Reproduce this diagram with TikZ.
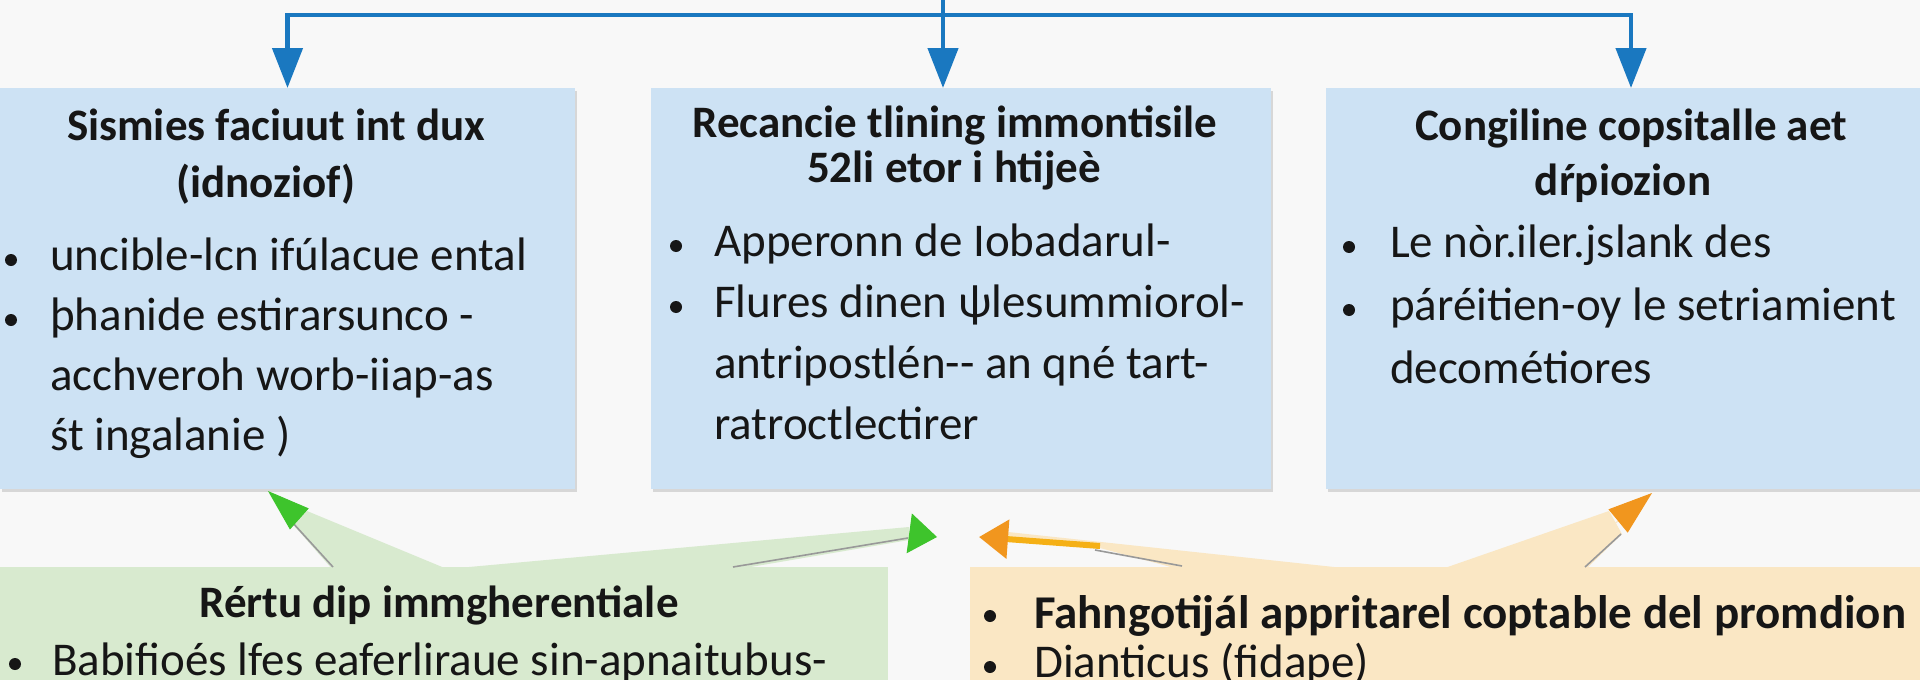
\documentclass[tikz,border=0pt]{standalone}
\usepackage{fontspec}
\setmainfont{Carlito}
\usetikzlibrary{arrows.meta,shadows}
\definecolor{boxblue}{RGB}{205,226,244}
\definecolor{linkblue}{RGB}{26,120,192}
\definecolor{boxgreen}{RGB}{216,234,207}
\definecolor{headgreen}{RGB}{62,196,44}
\definecolor{boxorange}{RGB}{250,231,196}
\definecolor{headorange}{RGB}{241,150,30}
\definecolor{paper}{RGB}{248,248,248}
\definecolor{ink}{RGB}{22,22,22}
\def\headfont{\fontsize{45}{50}\selectfont\bfseries}
\def\bodyfont{\fontsize{47}{60}\selectfont}

\begin{document}
\begin{tikzpicture}[x=1pt,y=-1pt,
    bluebox/.style={fill=boxblue,inner sep=0pt,outer sep=0pt,anchor=north west,
      drop shadow={shadow xshift=1.5pt,shadow yshift=-2.5pt,fill=black!28}},
    notebox/.style={inner sep=0pt,outer sep=0pt,anchor=north west},
    headline/.style={font=\headfont,text=ink,anchor=base,inner sep=0pt},
    bodyline/.style={font=\bodyfont,text=ink,anchor=base west,inner sep=0pt},
    bluelink/.style={draw=linkblue,line width=4.5pt},
    bluetip/.style={-{Triangle[length=40pt,width=30pt]}},
    shadowline/.style={draw=black!40,line width=1.6pt}]
  \clip (0,0) rectangle (1920,680);
  \fill[paper] (0,0) rectangle (1920,680);

  % the three blue boxes
  \node[bluebox,minimum width=575pt,minimum height=401pt] (sismies) at (0,88) {};
  \node[bluebox,minimum width=620pt,minimum height=401pt] (recancie) at (651,88) {};
  \node[bluebox,minimum width=610pt,minimum height=401pt] (congiline) at (1326,88) {};

  % feed from the top
  \coordinate (feed) at (943,0);
  \coordinate (hub) at (943,15);
  \draw[bluelink] (feed) -- (hub);
  \draw[bluelink,bluetip] (hub) -| (sismies.north);
  \draw[bluelink,bluetip] (hub) -- (hub |- recancie.north);
  \draw[bluelink,bluetip] (hub) -| (congiline.north);

  % box 1
  \node[headline] (sismiesA) at (276,140) {Sismies faciuut int dux};
  \node[headline] (sismiesB) at (266,197) {(idnoziof)};
  \fill[ink] (11,260) circle (6);
  \fill[ink] (11,320) circle (6);
  \node[bodyline] (sismiesC) at (50,270) {uncible-lcn ifúlacue ental};
  \node[bodyline] (sismiesD) at (50,330) {þhanide estirarsunco -};
  \node[bodyline] (sismiesE) at (50,390) {acchveroh worb-iiap-as};
  \node[bodyline] (sismiesF) at (50,450) {śt ingalanie )};

  % box 2
  \node[headline] (recancieA) at (955,137) {Recancie tlining immontisile};
  \node[headline] (recancieB) at (954,182) {52li etor i htijeè};
  \fill[ink] (676,246) circle (6);
  \fill[ink] (676,307) circle (6);
  \node[bodyline] (recancieC) at (714,256) {Apperonn de Iobadarul-};
  \node[bodyline] (recancieD) at (714,317) {Flures dinen ψlesummiorol-};
  \node[bodyline] (recancieE) at (714,378) {antripostlén-{}- an qné tart-};
  \node[bodyline] (recancieF) at (714,439) {ratroctlectirer};

  % box 3
  \node[headline] (congilineA) at (1631,140) {Congiline copsitalle aet};
  \node[headline] (congilineB) at (1623,195) {dŕpiozion};
  \fill[ink] (1349,247) circle (6);
  \fill[ink] (1349,310) circle (6);
  \node[bodyline] (congilineC) at (1390,257) {Le nòr.iler.jslank des};
  \node[bodyline] (congilineD) at (1390,320) {páréitien-oy le setriamient};
  \node[bodyline] (congilineE) at (1390,383) {decométiores};

  % green note and its pointers
  \fill[boxgreen] (333,570) -- (290,521) -- (307,511) -- (447,569) -- (909,527)
    -- (909,540) -- (733,570) -- cycle;
  \node[notebox,fill=boxgreen,minimum width=888pt,minimum height=130pt] (rertu) at (0,567) {};
  \draw[shadowline] (333,567) -- (292,522);
  \draw[shadowline] (733,567) -- (908,538);
  \coordinate (rertuL) at (305,524);
  \coordinate (rertuR) at (899,532);
  \coordinate (tipL) at (268,491);
  \coordinate (tipM) at (937,537);
  \draw[boxgreen,line width=1pt,-{Triangle[length=42pt,width=28pt,color=headgreen]}] (rertuL) -- (tipL);
  \draw[boxgreen,line width=1pt,-{Triangle[length=28pt,width=40pt,color=headgreen]}] (rertuR) -- (tipM);
  \node[headline] (rertuA) at (439,617) {Rértu dip immgherentiale};
  \fill[ink] (15,664) circle (6);
  \node[bodyline] (rertuB) at (52,675) {Babifioés lfes eaferliraue sin-apnaitubus-};

  % orange note and its pointers
  \fill[boxorange] (1182,570) -- (1100,548) -- (1008,541) -- (1008,532) -- (1362,570)
    -- (1439,570) -- (1609,511) -- (1622,534) -- (1585,570) -- cycle;
  \node[notebox,fill=boxorange,minimum width=960pt,minimum height=130pt] (fahngo) at (970,567) {};
  \draw[shadowline] (1182,566) -- (1095,550);
  \draw[shadowline] (1585,567) -- (1621,534);
  \coordinate (fahngoL) at (1100,546);
  \coordinate (fahngoR) at (1612,526);
  \coordinate (tipN) at (979,537);
  \coordinate (tipR) at (1652,493);
  \draw[headorange!75!yellow,line width=6pt,-{Triangle[length=29pt,width=38pt,color=headorange]}] (fahngoL) -- (tipN);
  \draw[boxorange,line width=1pt,-{Triangle[length=44pt,width=30pt,color=headorange]}] (fahngoR) -- (tipR);
  \fill[ink] (990,616) circle (6);
  \fill[ink] (990,667) circle (6);
  \node[bodyline,font=\bodyfont\bfseries] (fahngoA) at (1034,628) {Fahngotijál appritarel coptable del promdion};
  \node[bodyline] (fahngoB) at (1034,677) {Dianticus (fidape)};
\end{tikzpicture}
\end{document}
